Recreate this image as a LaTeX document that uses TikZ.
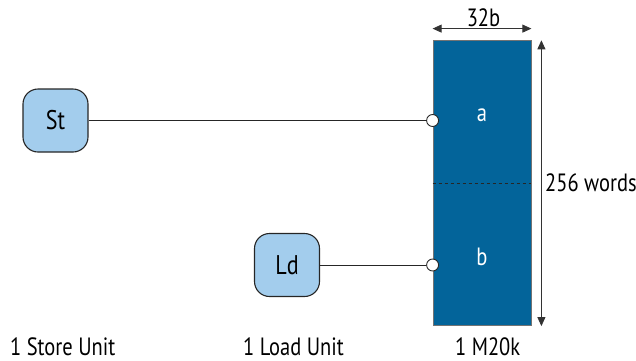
\documentclass[tikz,border=0pt]{standalone}
\usepackage{fontspec}
\setmainfont[FakeStretch=0.82]{PT Sans}
\usetikzlibrary{arrows.meta}
\definecolor{unitblue}{HTML}{A3CDED}
\definecolor{memblue}{HTML}{03649A}
\tikzset{
  unit/.style={draw=black!85, line width=1.1pt, fill=unitblue, rounded corners=15pt,
    minimum width=65pt, minimum height=63pt, inner sep=0pt,
    font=\fontsize{27}{32}\selectfont},
  mem/.style={draw=black!55, line width=0.8pt, fill=memblue,
    minimum width=98pt, minimum height=285pt, inner sep=0pt},
  port/.style={circle, draw=black!85, line width=0.9pt, fill=white,
    minimum size=12pt, inner sep=0pt},
  wire/.style={draw=black!85, line width=0.8pt},
  dim/.style={draw=black!80, line width=0.8pt,
    {Triangle[length=9pt,width=8pt]}-{Triangle[length=9pt,width=8pt]}},
  lbl/.style={font=\fontsize{25}{30}\selectfont, inner sep=0pt},
  inlbl/.style={lbl, text=white}
}
\begin{document}
\begin{tikzpicture}[x=1pt,y=-1pt]
\useasboundingbox (0,0) rectangle (636,360);

% memory block and its two ports
\node[mem] (mem) at (482,183.2) {};
\draw[black!85, line width=0.7pt, dashed] (mem.west) -- (mem.east);
\node[inlbl, anchor=base] (la) at (482,121.5) {a};
\node[inlbl, anchor=base] (lb) at (482,265) {b};

% store and load units
\node[unit] (st) at (55.5,120.5) {St};
\node[unit] (ld) at (287,265) {Ld};

\node[port] (pa) at (mem.west |- st) {};
\node[port] (pb) at (mem.west |- ld) {};
\draw[wire] (st) -- (pa);
\draw[wire] (ld) -- (pb);

% dimensions
\coordinate (tl) at ([yshift=11.7pt]mem.north west);
\coordinate (tr) at ([yshift=11.7pt]mem.north east);
\draw[dim] (tl) -- (tr);
\node[lbl, anchor=base] (w) at (483.5,26) {32b};
\coordinate (rt) at ([xshift=10pt]mem.north east);
\coordinate (rb) at ([xshift=10pt]mem.south east);
\draw[dim] (rt) -- (rb);
\node[lbl, anchor=base west] (h) at (545,191.5) {256 words};

% captions
\node[lbl, anchor=base west] (c1) at (10,355) {1 Store Unit};
\node[lbl, anchor=base west] (c2) at (243,355) {1 Load Unit};
\node[lbl, anchor=base west] (c3) at (455,355) {1 M20k};
\end{tikzpicture}
\end{document}
